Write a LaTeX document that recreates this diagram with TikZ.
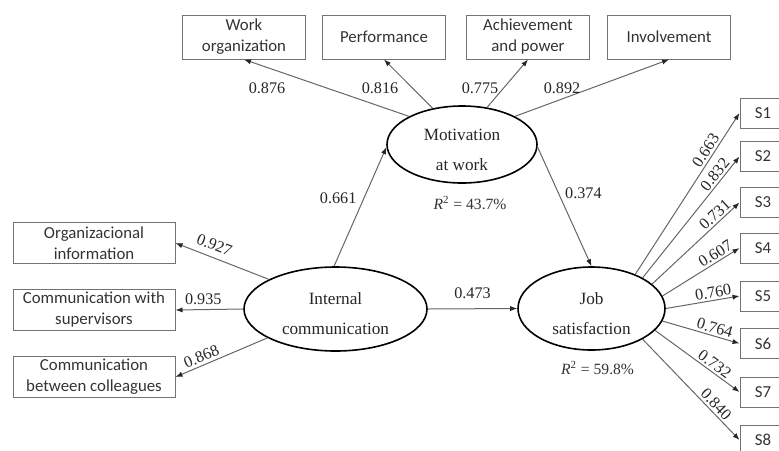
\documentclass[tikz,border=0pt]{standalone}
\usepackage{fontspec}
\setmainfont{Liberation Serif}
\newfontfamily\boxfont{Carlito}
\usetikzlibrary{shapes,arrows.meta}
\usetikzlibrary{calc,positioning}

\begin{document}
\begin{tikzpicture}[x=0.5pt, y=-0.5pt, inner sep=1pt,
    latent/.style={ellipse, draw=black, line width=0.8pt, text=black!85, align=center,
        inner sep=0pt, text height=25.5pt, text depth=0pt, font=\fontsize{8.6}{15}\selectfont},
    indicator/.style={rectangle, draw=black!55, line width=0.5pt, text=black!80, align=center,
        inner sep=1pt, font=\boxfont\fontsize{8.4}{10.5}\selectfont},
    topbox/.style={minimum width=61.5pt, minimum height=22pt},
    leftbox/.style={minimum width=81pt, minimum height=20.5pt},
    sbox/.style={minimum width=23pt, minimum height=15pt},
    link/.style={->, >={Latex[length=3.5pt,width=2.6pt,color=black!85]}, draw=black!60, line width=0.5pt},
    coef/.style={font=\fontsize{8.1}{9}\selectfont, text=black!85, inner sep=1pt},
    rsq/.style={font=\fontsize{7.8}{9}\selectfont, text=black!80, inner sep=1pt}
    ]
    \useasboundingbox (0,0) rectangle (779,450);

    \node[latent, minimum width=75pt, minimum height=38.5pt] (mot) at (462,144.5) {Motivation\\at work};
    \node[latent, minimum width=91.5pt, minimum height=42pt] (int) at (335.5,309) {Internal\\communication};
    \node[latent, minimum width=73.5pt, minimum height=41.5pt] (job) at (591.5,308.5) {Job\\satisfaction};

    \node[rsq, below=5pt of mot.south, xshift=4pt] (r2mot) {\textit{R}\textsuperscript{2} = 43.7\%};
    \node[rsq, below=4pt of job.south, xshift=3pt] (r2job) {\textit{R}\textsuperscript{2} = 59.8\%};

    \node[indicator, topbox] (work) at (244,37) {Work\\organization};
    \node[indicator, topbox, right=8pt of work] (perf) {Performance};
    \node[indicator, topbox, right=10pt of perf] (achv) {Achievement\\and power};
    \node[indicator, topbox, right=8.5pt of achv] (invo) {Involvement};

    \node[indicator, leftbox] (orginfo) at (94,243) {Organizacional\\information};
    \node[indicator, leftbox, below=12.5pt of orginfo] (supv) {Communication with\\supervisors};
    \node[indicator, leftbox, below=12.5pt of supv] (colg) {Communication\\between colleagues};

    \node[indicator, sbox] (s1) at (763,113) {S1};
    \node[indicator, sbox, below=6.25pt of s1] (s2) {S2};
    \node[indicator, sbox, below=7.5pt of s2] (s3) {S3};
    \node[indicator, sbox, below=7.25pt of s3] (s4) {S4};
    \node[indicator, sbox, below=8.5pt of s4] (s5) {S5};
    \node[indicator, sbox, below=8.25pt of s5] (s6) {S6};
    \node[indicator, sbox, below=8.75pt of s6] (s7) {S7};
    \node[indicator, sbox, below=8.5pt of s7] (s8) {S8};

    % motivation at work
    \draw[link] (mot.152) -- (work.south);
    \draw[link] (mot.129) -- (perf.south);
    \draw[link] (mot.56) -- (achv.south);
    \draw[link] (mot.28) -- (invo.south);
    \node[coef] (lwork) at (267,88) {0.876};
    \node[coef] (lperf) at (380,88) {0.816};
    \node[coef] (lachv) at (480,88) {0.775};
    \node[coef] (linvo) at (562,88) {0.892};

    % internal communication
    \draw[link] (int.156) -- node[coef, sloped, above=2pt, pos=0.63] (lorg) {0.927} (orginfo.east);
    \draw[link] (int.west) -- node[coef, above=1pt, pos=0.59] (lsup) {0.935} (supv.east);
    \draw[link] (int.203) -- node[coef, sloped, above=0.5pt, pos=0.68] (lcol) {0.868} (colg.east);

    \draw[link] (int.92) -- node[coef, pos=0.57, left=2.5pt] (lim) {0.661} (mot.182);
    \draw[link] (mot.-2) -- node[coef, pos=0.39, right=2pt] (lmj) {0.374} (job.north);
    \draw[link] (int.east) -- node[coef, above=4pt] (lij) {0.473} (job.west);

    % job satisfaction
    \draw[link] (job.38) -- node[coef, sloped, above, pos=0.74] (ls1) {0.663} (s1.west);
    \draw[link] (job.31) -- node[coef, sloped, above, pos=0.81] (ls2) {0.832} (s2.west);
    \draw[link] (job.22) -- node[coef, sloped, above, pos=0.78] (ls3) {0.731} (s3.west);
    \draw[link] (job.10) -- node[coef, sloped, above, pos=0.74] (ls4) {0.607} (s4.west);
    \draw[link] (job.0) -- node[coef, sloped, above, pos=0.66] (ls5) {0.760} (s5.west);
    \draw[link] (job.-10) -- node[coef, sloped, above, pos=0.65] (ls6) {0.764} (s6.west);
    \draw[link] (job.-19) -- node[coef, sloped, above, pos=0.65] (ls7) {0.732} (s7.west);
    \draw[link] (job.-31) -- node[coef, sloped, above, pos=0.70] (ls8) {0.840} (s8.west);

\end{tikzpicture}
\end{document}
